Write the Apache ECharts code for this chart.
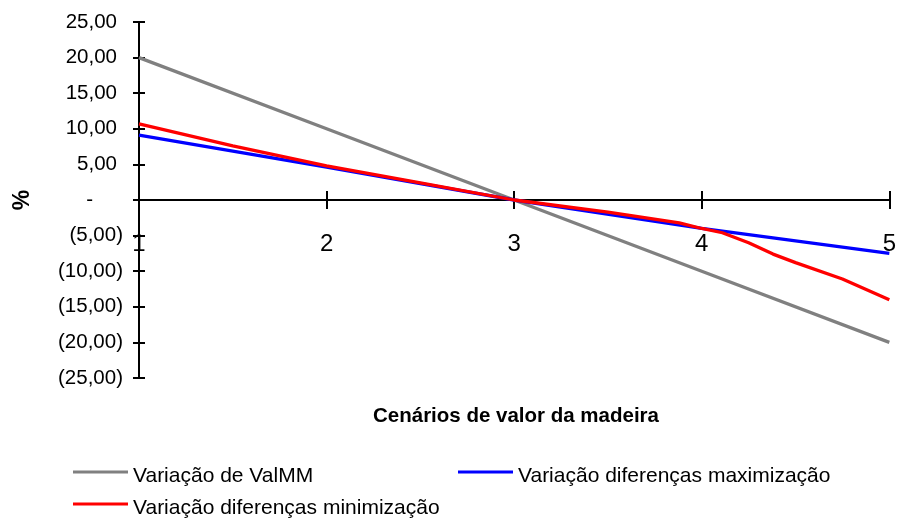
<!DOCTYPE html>
<html>
<head>
<meta charset="utf-8">
<script src="https://cdn.jsdelivr.net/npm/echarts@6/dist/echarts.min.js"></script>
<style>html,body{margin:0;padding:0;background:#fff}#c{width:899px;height:520px}</style>
</head>
<body>
<div id="c"></div>
<script>
// Scenario values on the x axis
const xTicks = [1, 2, 3, 4, 5];
// Variação de ValMM
const valMM = [20, 10, 0, -10, -20];
// Variação diferenças maximização
const maxDiff = [9.1, 4.6, 0, -4.0, -7.5];
// Variação diferenças minimização (finer x sampling)
const minX = [1, 1.5, 2, 2.5, 3, 3.5, 3.88, 4, 4.11, 4.25, 4.38, 4.5, 4.75, 5];
const minY = [10.7, 7.6, 4.8, 2.4, 0, -1.7, -3.2, -4.0, -4.6, -6.0, -7.6, -8.8, -11.1, -14.0];
// y axis range
const yMin = -25, yMax = 25, yStep = 5;

const seriesNames = ['Variação de ValMM', 'Variação diferenças maximização', 'Variação diferenças minimização'];
const xTitle = 'Cenários de valor da madeira';
const yTitle = '%';

const pair = (xs, ys) => xs.map((x, i) => [x, ys[i]]);

function yFmt(v) {
  if (v === 0) return '{z|-}';
  const s = Math.abs(v).toFixed(2).replace('.', ',');
  return v > 0 ? '{p|' + s + '}' : '{n|(' + s + ')}';
}

const W = 899, H = 520;
const gridTop = 22, gridBottom = 142;
const gridH = H - gridTop - gridBottom;
// distance from the grid bottom up to the y = 0 line
const zeroOffset = -gridH * (0 - yMin) / (yMax - yMin);

const chart = echarts.init(document.getElementById('c'), null, {renderer: 'canvas'});
const FONT = 'Liberation Sans, Arial, sans-serif';
const LEG_ICON = 'path://M0,0L55,0L55,3L0,3ZM0,11.99L55,11.99L55,12L0,12Z';
const legText = {fontFamily: FONT, fontSize: 21, color: '#000'};
chart.setOption({
  animation: false,
  backgroundColor: '#fff',
  grid: {left: 139, right: 9, top: gridTop, bottom: gridBottom, containLabel: false},
  title: {text: xTitle, left: 373, top: 406, padding: 0,
    textStyle: {fontFamily: FONT, fontSize: 20.5, fontWeight: 'bold', color: '#000'}},
  graphic: [{type: 'text', x: 22.5, y: 200, rotation: Math.PI / 2,
    style: {text: yTitle, font: 'bold 23px ' + FONT, fill: '#000', align: 'center', verticalAlign: 'middle'}}],
  legend: [
    {data: [seriesNames[0]], left: 73, top: 466, itemWidth: 55, itemHeight: 12, padding: 0, icon: LEG_ICON,
     textStyle: legText},
    {data: [seriesNames[1]], left: 458, top: 466, itemWidth: 55, itemHeight: 12, padding: 0, icon: LEG_ICON,
     textStyle: legText},
    {data: [seriesNames[2]], left: 73, top: 498, itemWidth: 55, itemHeight: 12, padding: 0, icon: LEG_ICON,
     textStyle: legText}
  ],
  xAxis: [
    {type: 'value', min: xTicks[0], max: xTicks[xTicks.length - 1], interval: 1, position: 'bottom', offset: zeroOffset,
     axisLine: {onZero: false, lineStyle: {color: '#000', width: 2}},
     axisTick: {show: true, inside: false, length: 9, lineStyle: {color: '#000', width: 2}},
     axisLabel: {color: '#000', fontSize: 24, fontFamily: FONT, margin: 32},
     splitLine: {show: false}},
    {type: 'value', min: xTicks[0], max: xTicks[xTicks.length - 1], interval: 1, position: 'bottom', offset: zeroOffset,
     axisLine: {onZero: false, show: false},
     axisTick: {show: true, inside: true, length: 9, lineStyle: {color: '#000', width: 2}},
     axisLabel: {show: false}, splitLine: {show: false}}
  ],
  yAxis: [
    {type: 'value', min: yMin, max: yMax, interval: yStep,
     axisLine: {show: true, onZero: false, lineStyle: {color: '#000', width: 2}},
     axisTick: {show: true, inside: false, length: 6, lineStyle: {color: '#000', width: 2}},
     axisLabel: {color: '#000', fontSize: 20.5, fontFamily: FONT, margin: 16, formatter: yFmt,
       rich: {p: {fontSize: 20.5, fontFamily: FONT, color: '#000', padding: [0, 6, 0, 0]},
              n: {fontSize: 20.5, fontFamily: FONT, color: '#000'},
              z: {fontSize: 20.5, fontFamily: FONT, color: '#000', padding: [0, 30, 0, 0]}}},
     splitLine: {show: false}},
    {type: 'value', min: yMin, max: yMax, interval: yStep, position: 'left',
     axisLine: {show: false, onZero: false},
     axisTick: {show: true, inside: true, length: 6, lineStyle: {color: '#000', width: 2}},
     axisLabel: {show: false}, splitLine: {show: false}}
  ],
  series: [
    {name: seriesNames[0], type: 'line', data: pair(xTicks, valMM), symbol: 'none',
     lineStyle: {color: '#808080', width: 3.3}, itemStyle: {color: '#808080'}, z: 3},
    {name: seriesNames[1], type: 'line', data: pair(xTicks, maxDiff), symbol: 'none',
     lineStyle: {color: '#0000ff', width: 3.3}, itemStyle: {color: '#0000ff'}, z: 4},
    {name: seriesNames[2], type: 'line', data: pair(minX, minY), symbol: 'none',
     lineStyle: {color: '#ff0000', width: 3.3}, itemStyle: {color: '#ff0000'}, z: 5}
  ]
});
</script>
</body>
</html>
